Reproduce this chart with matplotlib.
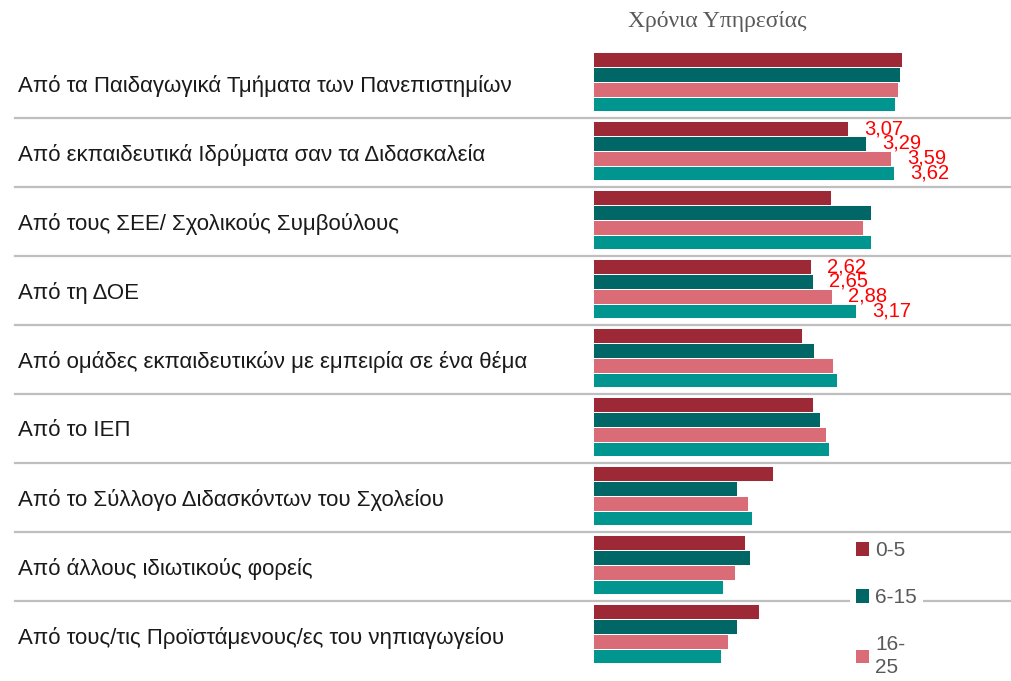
import matplotlib
matplotlib.use("Agg")
import matplotlib.pyplot as plt
from matplotlib.patches import Patch
import numpy as np

kategories = [
    "Από τα Παιδαγωγικά Τμήματα των Πανεπιστημίων",
    "Από εκπαιδευτικά Ιδρύματα σαν τα Διδασκαλεία",
    "Από τους ΣΕΕ/ Σχολικούς Συμβούλους",
    "Από τη ΔΟΕ",
    "Από ομάδες εκπαιδευτικών με εμπειρία σε ένα θέμα",
    "Από το ΙΕΠ",
    "Από το Σύλλογο Διδασκόντων του Σχολείου",
    "Από άλλους ιδιωτικούς φορείς",
    "Από τους/τις Προϊστάμενους/ες του νηπιαγωγείου",
]
omades = ["0-5", "6-15", "16-25", "26+"]
legend_labels = ["0-5", "6-15", "16-\n25", "26+"]
v_0_5 = [3.72, 3.07, 2.86, 2.62, 2.52, 2.65, 2.17, 1.83, 2.00]
v_6_15 = [3.69, 3.29, 3.35, 2.65, 2.66, 2.73, 1.73, 1.89, 1.73]
v_16_25 = [3.67, 3.59, 3.25, 2.88, 2.89, 2.80, 1.87, 1.71, 1.62]
v_26 = [3.63, 3.62, 3.35, 3.17, 2.94, 2.84, 1.91, 1.56, 1.54]
me_etiketes = [False, True, False, True, False, False, False, False, False]

xromata = ["#9E2936", "#006666", "#D96C76", "#00958F"]
seires = [v_0_5, v_6_15, v_16_25, v_26]

W, H = 1011, 681
fig = plt.figure(figsize=(W / 100, H / 100), dpi=100)
x0, x1 = 593, 1011
ytop, ybot = 48.7, 669.7
ax = fig.add_axes([x0 / W, 1 - ybot / H, (x1 - x0) / W, (ybot - ytop) / H])
scale = 83.1  # px per unit
ax.set_xlim(0, (x1 - x0) / scale)
ax.set_ylim(len(kategories) - 0.5, -0.5)

y = np.arange(len(kategories))
h = 0.215
for i, (vals, col) in enumerate(zip(seires, xromata)):
    pos = y + (i - 1.5) * h - 0.02
    ax.barh(pos, vals, height=h, color=col, edgecolor="white", linewidth=0.7)
    for p, v, show in zip(pos, vals, me_etiketes):
        if show:
            ax.text(v + 16 / scale, p, f"{v:.2f}".replace(".", ","),
                    color="#FF0000", fontsize=14.5, va="center", ha="left",
                    family=["Liberation Sans Narrow", "Liberation Sans"])

# separators between categories
left_frac = (15 - x0) / (x1 - x0)
for k in range(len(kategories) - 1):
    ax.axhline(k + 0.5, xmin=left_frac, xmax=1, color="#BFBFBF",
               lw=1.6, clip_on=False, zorder=0)

ax.set_yticks(y)
ax.set_yticklabels(kategories, fontsize=16, family="Liberation Sans",
                   color="#1a1a1a", ha="left")
ax.tick_params(axis="y", length=0, pad=(x0 - 18) * 0.72)
ax.set_xticks([])
for s in ax.spines.values():
    s.set_visible(False)

fig.text(717 / W, 1 - 22 / H, "Χρόνια Υπηρεσίας", ha="center", va="center",
         fontsize=17, family="Liberation Serif", color="#595959")

handles = [Patch(facecolor=c) for c in xromata]
leg = fig.legend(handles, legend_labels, loc="upper left",
                 bbox_to_anchor=(850 / W, 1 - 535 / H),
                 prop={"family": "Liberation Sans", "size": 15},
                 labelcolor="#595959", frameon=True, facecolor="white",
                 edgecolor="none", framealpha=1, fancybox=False,
                 handlelength=0.6, handleheight=0.6, handletextpad=0.3,
                 labelspacing=1.35, borderpad=0.3, borderaxespad=0)
for t in leg.get_texts():
    t.set_linespacing(1.25)

fig.savefig("out.png", dpi=100)
